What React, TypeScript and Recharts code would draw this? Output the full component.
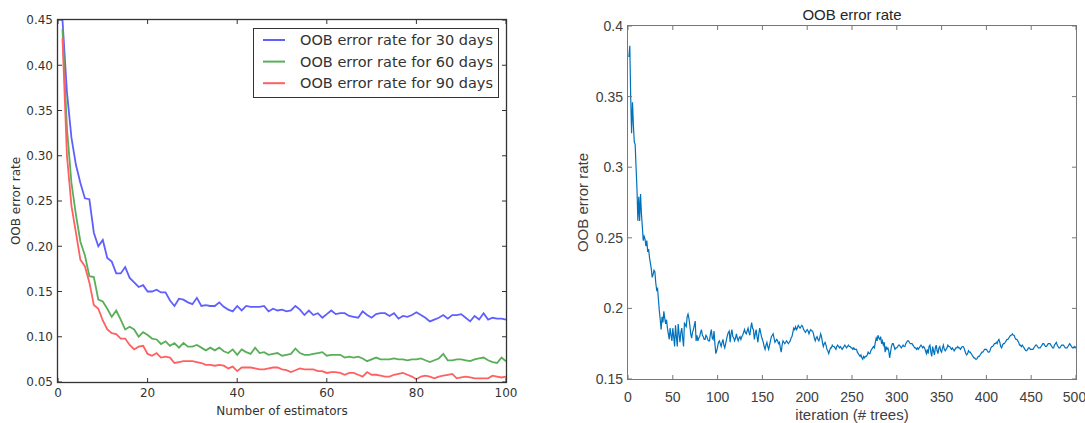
import { LineChart, Line, XAxis, YAxis, Legend, ReferenceLine } from 'recharts';

// left panel: OOB error vs number of estimators (1..100)
const oob30 = [
  0.450, 0.370, 0.320, 0.290, 0.270, 0.253, 0.252, 0.215, 0.200, 0.207,
  0.187, 0.183, 0.170, 0.170, 0.177, 0.165, 0.160, 0.155, 0.157, 0.150,
  0.150, 0.152, 0.149, 0.149, 0.140, 0.134, 0.142, 0.141, 0.138, 0.136,
  0.143, 0.134, 0.135, 0.134, 0.134, 0.138, 0.133, 0.130, 0.128, 0.134,
  0.129, 0.134, 0.133, 0.133, 0.133, 0.134, 0.128, 0.131, 0.129, 0.130,
  0.128, 0.129, 0.134, 0.130, 0.124, 0.129, 0.124, 0.126, 0.121, 0.125,
  0.129, 0.125, 0.126, 0.126, 0.123, 0.122, 0.121, 0.128, 0.124, 0.121,
  0.125, 0.126, 0.126, 0.123, 0.126, 0.120, 0.123, 0.122, 0.124, 0.127,
  0.124, 0.121, 0.117, 0.119, 0.121, 0.124, 0.120, 0.124, 0.124, 0.125,
  0.121, 0.117, 0.123, 0.119, 0.126, 0.119, 0.121, 0.120, 0.120, 0.119,
];
const oob60 = [
  0.440, 0.330, 0.270, 0.235, 0.205, 0.190, 0.167, 0.166, 0.141, 0.139,
  0.131, 0.122, 0.129, 0.119, 0.108, 0.111, 0.108, 0.100, 0.105, 0.102,
  0.098, 0.097, 0.092, 0.095, 0.090, 0.093, 0.088, 0.093, 0.089, 0.089,
  0.091, 0.088, 0.085, 0.088, 0.085, 0.088, 0.084, 0.082, 0.086, 0.080,
  0.086, 0.083, 0.081, 0.088, 0.082, 0.083, 0.080, 0.081, 0.082, 0.079,
  0.080, 0.081, 0.087, 0.082, 0.080, 0.080, 0.081, 0.082, 0.083, 0.079,
  0.080, 0.080, 0.080, 0.077, 0.078, 0.077, 0.078, 0.076, 0.073, 0.075,
  0.077, 0.075, 0.075, 0.075, 0.076, 0.075, 0.075, 0.074, 0.075, 0.075,
  0.076, 0.074, 0.072, 0.074, 0.076, 0.081, 0.074, 0.074, 0.075, 0.075,
  0.074, 0.073, 0.075, 0.076, 0.077, 0.074, 0.072, 0.071, 0.077, 0.073,
];
const oob90 = [
  0.430, 0.300, 0.245, 0.215, 0.185, 0.178, 0.160, 0.135, 0.131, 0.118,
  0.108, 0.104, 0.103, 0.098, 0.098, 0.091, 0.086, 0.089, 0.090, 0.081,
  0.079, 0.082, 0.077, 0.078, 0.077, 0.071, 0.072, 0.073, 0.073, 0.073,
  0.072, 0.071, 0.069, 0.069, 0.068, 0.069, 0.068, 0.065, 0.067, 0.062,
  0.066, 0.066, 0.066, 0.065, 0.064, 0.064, 0.065, 0.066, 0.066, 0.064,
  0.063, 0.061, 0.063, 0.065, 0.064, 0.064, 0.064, 0.062, 0.062, 0.060,
  0.061, 0.061, 0.060, 0.058, 0.060, 0.060, 0.058, 0.056, 0.061, 0.058,
  0.058, 0.057, 0.056, 0.056, 0.058, 0.059, 0.060, 0.058, 0.056, 0.053,
  0.056, 0.057, 0.056, 0.054, 0.056, 0.057, 0.058, 0.059, 0.054, 0.055,
  0.056, 0.055, 0.054, 0.054, 0.054, 0.054, 0.057, 0.056, 0.055, 0.056,
];

const leftSeries = [
  { key: 'd30', name: 'OOB error rate for 30 days', color: '#5f5fff' },
  { key: 'd60', name: 'OOB error rate for 60 days', color: '#5aae5a' },
  { key: 'd90', name: 'OOB error rate for 90 days', color: '#ff6060' },
];
const leftXTicks = [0, 20, 40, 60, 80, 100];
const leftYTicks = [0.05, 0.1, 0.15, 0.2, 0.25, 0.3, 0.35, 0.4, 0.45];

// right panel: OOB error vs iteration (1..500 trees)
const oobTrees = [
  0.378, 0.386, 0.350, 0.324, 0.346, 0.330, 0.318, 0.316, 0.300, 0.285, 0.262, 0.279, 0.262, 0.281, 0.267, 0.258, 0.248, 0.251, 0.249, 0.244, 0.248, 0.240, 0.242, 0.236, 0.232,
  0.228, 0.222, 0.224, 0.227, 0.226, 0.218, 0.213, 0.214, 0.206, 0.198, 0.192, 0.185, 0.194, 0.190, 0.198, 0.193, 0.189, 0.192, 0.186, 0.182, 0.178, 0.186, 0.181, 0.177, 0.186,
  0.180, 0.173, 0.188, 0.180, 0.173, 0.189, 0.182, 0.176, 0.183, 0.186, 0.179, 0.173, 0.190, 0.188, 0.187, 0.194, 0.196, 0.193, 0.188, 0.182, 0.179, 0.183, 0.185, 0.188, 0.191,
  0.177, 0.181, 0.177, 0.179, 0.180, 0.183, 0.185, 0.181, 0.180, 0.178, 0.178, 0.181, 0.180, 0.178, 0.177, 0.177, 0.182, 0.185, 0.179, 0.178, 0.184, 0.175, 0.168, 0.170, 0.173,
  0.176, 0.177, 0.175, 0.173, 0.176, 0.178, 0.174, 0.172, 0.175, 0.178, 0.181, 0.183, 0.184, 0.176, 0.182, 0.185, 0.180, 0.179, 0.177, 0.179, 0.182, 0.179, 0.177, 0.179, 0.180,
  0.178, 0.180, 0.181, 0.183, 0.185, 0.183, 0.182, 0.184, 0.186, 0.183, 0.181, 0.186, 0.190, 0.186, 0.185, 0.178, 0.182, 0.185, 0.180, 0.176, 0.182, 0.186, 0.183, 0.180, 0.178,
  0.176, 0.173, 0.171, 0.174, 0.176, 0.173, 0.171, 0.174, 0.177, 0.180, 0.181, 0.182, 0.179, 0.176, 0.177, 0.178, 0.177, 0.175, 0.176, 0.172, 0.169, 0.174, 0.177, 0.176, 0.175,
  0.176, 0.177, 0.176, 0.175, 0.176, 0.177, 0.179, 0.180, 0.183, 0.186, 0.185, 0.187, 0.185, 0.186, 0.188, 0.187, 0.186, 0.187, 0.188, 0.187, 0.185, 0.184, 0.183, 0.184, 0.185,
  0.184, 0.182, 0.184, 0.185, 0.184, 0.184, 0.182, 0.179, 0.177, 0.179, 0.180, 0.178, 0.177, 0.179, 0.182, 0.180, 0.176, 0.173, 0.175, 0.176, 0.174, 0.171, 0.170, 0.168, 0.170,
  0.172, 0.172, 0.174, 0.173, 0.173, 0.172, 0.171, 0.173, 0.174, 0.173, 0.172, 0.173, 0.172, 0.171, 0.172, 0.173, 0.174, 0.173, 0.172, 0.173, 0.174, 0.173, 0.173, 0.172, 0.172,
  0.171, 0.172, 0.171, 0.171, 0.171, 0.169, 0.168, 0.167, 0.166, 0.167, 0.165, 0.164, 0.166, 0.165, 0.166, 0.166, 0.167, 0.169, 0.168, 0.168, 0.170, 0.171, 0.172, 0.173, 0.172,
  0.176, 0.179, 0.177, 0.181, 0.179, 0.178, 0.180, 0.175, 0.177, 0.174, 0.176, 0.169, 0.173, 0.171, 0.172, 0.170, 0.165, 0.169, 0.173, 0.175, 0.175, 0.173, 0.171, 0.172, 0.172,
  0.173, 0.174, 0.174, 0.173, 0.172, 0.173, 0.174, 0.173, 0.173, 0.175, 0.176, 0.177, 0.177, 0.176, 0.175, 0.175, 0.175, 0.174, 0.173, 0.172, 0.172, 0.171, 0.172, 0.171, 0.172,
  0.173, 0.174, 0.173, 0.172, 0.173, 0.172, 0.170, 0.168, 0.171, 0.168, 0.173, 0.174, 0.169, 0.166, 0.173, 0.170, 0.167, 0.172, 0.174, 0.170, 0.168, 0.172, 0.173, 0.170, 0.169,
  0.172, 0.174, 0.171, 0.170, 0.171, 0.172, 0.174, 0.173, 0.173, 0.172, 0.171, 0.172, 0.171, 0.170, 0.171, 0.172, 0.172, 0.173, 0.172, 0.172, 0.171, 0.172, 0.173, 0.173, 0.172,
  0.170, 0.168, 0.167, 0.168, 0.170, 0.169, 0.169, 0.168, 0.167, 0.166, 0.165, 0.165, 0.164, 0.164, 0.165, 0.166, 0.166, 0.167, 0.168, 0.169, 0.169, 0.170, 0.171, 0.171, 0.171,
  0.170, 0.169, 0.169, 0.170, 0.172, 0.173, 0.173, 0.174, 0.175, 0.175, 0.176, 0.175, 0.177, 0.178, 0.176, 0.173, 0.172, 0.174, 0.175, 0.175, 0.176, 0.177, 0.178, 0.178, 0.179,
  0.180, 0.181, 0.181, 0.182, 0.181, 0.181, 0.179, 0.178, 0.178, 0.177, 0.176, 0.174, 0.174, 0.173, 0.174, 0.173, 0.172, 0.171, 0.170, 0.170, 0.171, 0.172, 0.172, 0.171, 0.171,
  0.171, 0.171, 0.172, 0.173, 0.174, 0.174, 0.173, 0.172, 0.172, 0.172, 0.173, 0.174, 0.175, 0.175, 0.174, 0.173, 0.173, 0.174, 0.175, 0.175, 0.175, 0.174, 0.173, 0.172, 0.172,
  0.174, 0.175, 0.176, 0.174, 0.173, 0.172, 0.172, 0.173, 0.174, 0.174, 0.174, 0.173, 0.172, 0.172, 0.172, 0.173, 0.174, 0.175, 0.174, 0.173, 0.172, 0.172, 0.173, 0.172, 0.173,
];
const rightXTicks = [0, 50, 100, 150, 200, 250, 300, 350, 400, 450, 500];
const rightYTicks = [0.15, 0.2, 0.25, 0.3, 0.35, 0.4];

const leftRows = oob30.map((v, i) => ({ n: i + 1, d30: v, d60: oob60[i], d90: oob90[i] }));
const rightRows = oobTrees.map((v, i) => ({ iter: i + 1, oob: v }));

const mplFont = { fill: '#333', fontSize: 12, fontFamily: 'DejaVu Sans' };
const matFont = { fill: '#404040', fontSize: 14, fontFamily: 'Liberation Sans, Arial, sans-serif' };

const CH_W = 540;
const CH_H = 423;
const leftBox = { top: 20, right: 34, yAxisW: 58, xAxisH: 41 };
const rightBox = { top: 26, right: 9, yAxisW: 83, xAxisH: 44 };

// full axes box with inward ticks on the top and right edges
const BoxFrame = ({ box, xTicks, yTicks, color, width }: any) => {
  const x0 = box.yAxisW;
  const y0 = box.top;
  const w = CH_W - box.yAxisW - box.right;
  const h = CH_H - box.top - box.xAxisH;
  const xMin = xTicks[0], xMax = xTicks[xTicks.length - 1];
  const yMin = yTicks[0], yMax = yTicks[yTicks.length - 1];
  return (
    <svg width={CH_W} height={CH_H} style={{ position: 'absolute', left: 0, top: 0, zIndex: 5, pointerEvents: 'none' }}>
      <rect x={x0 - 0.5} y={y0 - 0.5} width={w + 1} height={h + 1} fill="none" stroke={color} strokeWidth={width} />
      {xTicks.map((t: number) => {
        const x = x0 + ((t - xMin) / (xMax - xMin)) * w;
        return <line key={`x${t}`} x1={x} x2={x} y1={y0} y2={y0 + 4} stroke={color} />;
      })}
      {yTicks.map((t: number) => {
        const y = y0 + h - ((t - yMin) / (yMax - yMin)) * h;
        return <line key={`y${t}`} x1={x0 + w} x2={x0 + w - 4} y1={y} y2={y} stroke={color} />;
      })}
    </svg>
  );
};

const LegendBox = ({ payload }: any) => (
  <svg width={246} height={70} style={{ display: 'block' }}>
    <rect x={0.5} y={0.5} width={245} height={69} fill="#fff" stroke="#333" />
    {(payload || []).map((p: any, i: number) => {
      const y = 12 + i * 21.6;
      return (
        <g key={p.value}>
          <line x1={10} x2={32} y1={y} y2={y} stroke={p.color} strokeWidth={2} />
          <text x={47} y={y} dominantBaseline="central" {...mplFont} fontSize={14.5}>
            {p.value}
          </text>
        </g>
      );
    })}
  </svg>
);

const App = () => {
  return (
    <div style={{ position: 'absolute', left: 0, top: 0, width: 1085, height: 423, background: '#fff', overflow: 'hidden' }}>
      <div style={{ position: 'absolute', left: 0, top: 0, width: CH_W, height: CH_H }}>
        <LineChart width={CH_W} height={CH_H} data={leftRows} margin={{ top: leftBox.top, right: leftBox.right, bottom: 0, left: 0 }}>
          <XAxis
            dataKey="n"
            type="number"
            domain={[0, 100]}
            ticks={leftXTicks}
            height={leftBox.xAxisH}
            tickSize={-4}
            tickMargin={10}
            axisLine={false}
            tickLine={{ stroke: '#333' }}
            tick={mplFont}
            label={{ value: 'Number of estimators', position: 'insideBottom', offset: 8, style: mplFont }}
          />
          <YAxis
            type="number"
            domain={[0.05, 0.45]}
            ticks={leftYTicks}
            width={leftBox.yAxisW}
            tickSize={-4}
            tickMargin={9}
            axisLine={false}
            tickLine={{ stroke: '#333' }}
            tick={mplFont}
            tickFormatter={(v: number) => v.toFixed(2)}
            label={{ value: 'OOB error rate', angle: -90, position: 'insideLeft', offset: 16, style: { ...mplFont, textAnchor: 'middle' } }}
          />
          {leftSeries.map((s) => (
            <Line
              key={s.key}
              dataKey={s.key}
              name={s.name}
              stroke={s.color}
              strokeWidth={1.8}
              dot={false}
              isAnimationActive={false}
            />
          ))}
          <Legend
            layout="horizontal"
            verticalAlign="middle"
            align="center"
            content={<LegendBox />}
            wrapperStyle={{ left: 253, top: 28, width: 246, height: 70 }}
          />
        </LineChart>
        <BoxFrame box={leftBox} xTicks={leftXTicks} yTicks={leftYTicks} color="#333" width={1.3} />
      </div>
      <div style={{ position: 'absolute', left: 545, top: 0, width: CH_W, height: CH_H }}>
        <LineChart width={CH_W} height={CH_H} data={rightRows} margin={{ top: rightBox.top, right: rightBox.right, bottom: 0, left: 0 }}>
          <XAxis
            dataKey="iter"
            type="number"
            domain={[0, 500]}
            ticks={rightXTicks}
            height={rightBox.xAxisH}
            tickSize={-4}
            tickMargin={17}
            axisLine={false}
            tickLine={{ stroke: '#777' }}
            tick={matFont}
            label={{ value: 'iteration (# trees)', position: 'insideBottom', offset: 3, style: { ...matFont, fontSize: 15 } }}
          />
          <YAxis
            type="number"
            domain={[0.15, 0.4]}
            ticks={rightYTicks}
            width={rightBox.yAxisW}
            tickSize={-4}
            tickMargin={9}
            axisLine={false}
            tickLine={{ stroke: '#777' }}
            tick={matFont}
            tickFormatter={(v: number) => String(v)}
            label={{ value: 'OOB error rate', angle: -90, position: 'insideLeft', offset: 38, style: { ...matFont, fontSize: 15, textAnchor: 'middle' } }}
          />
          <Line dataKey="oob" stroke="#0072bd" strokeWidth={1.2} dot={false} isAnimationActive={false} />
          <ReferenceLine
            y={0.4}
            stroke="none"
            label={{ value: 'OOB error rate', position: 'top', offset: 6, style: { ...matFont, fill: '#262626', fontSize: 15 } }}
          />
        </LineChart>
        <BoxFrame box={rightBox} xTicks={rightXTicks} yTicks={rightYTicks} color="#777" width={1} />
      </div>
    </div>
  );
};

export default App;
